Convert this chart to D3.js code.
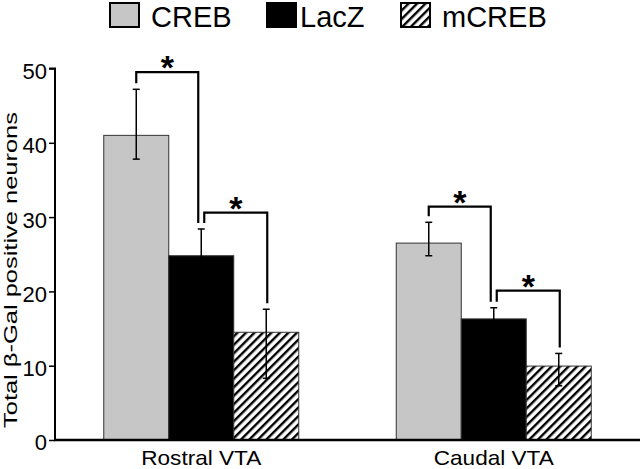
<!DOCTYPE html>
<html><head><meta charset="utf-8">
<script src="https://cdn.jsdelivr.net/npm/d3@7"></script>
<style>body{margin:0;background:#fff}svg{display:block;font-family:Arial,"Liberation Sans",Helvetica,sans-serif}</style>
</head><body><svg id="c" width="640" height="469"></svg>
<script>
const categories = ["Rostral VTA", "Caudal VTA"];
const series = ["CREB", "LacZ", "mCREB"];
const crebMean = [41.0, 26.5];
const crebHigh = [47.2, 29.3];
const crebLow = [37.8, 24.8];
const laczMean = [24.8, 16.3];
const laczHigh = [28.4, 17.8];
const laczLow = [21.2, 14.8];
const mcrebMean = [14.5, 9.95];
const mcrebHigh = [17.6, 11.65];
const mcrebLow = [8.3, 7.3];
const yTicks = [0, 10, 20, 30, 40, 50];
const yLabel = "Total β-Gal positive neurons";
// significance brackets: category, from series, to series, bracket height (value)
const brackets = [
  {cat: "Rostral VTA", a: "CREB", b: "LacZ", top: 49.5},
  {cat: "Rostral VTA", a: "LacZ", b: "mCREB", top: 30.6},
  {cat: "Caudal VTA", a: "CREB", b: "LacZ", top: 31.4},
  {cat: "Caudal VTA", a: "LacZ", b: "mCREB", top: 20.1}
];

const means = {CREB: crebMean, LacZ: laczMean, mCREB: mcrebMean};
const highs = {CREB: crebHigh, LacZ: laczHigh, mCREB: mcrebHigh};
const lows = {CREB: crebLow, LacZ: laczLow, mCREB: mcrebLow};
const rows = [];
categories.forEach((c, i) => series.forEach(s => rows.push({cat: c, s, v: means[s][i], hi: highs[s][i], lo: lows[s][i]})));

const svg = d3.select("#c");
const defs = svg.append("defs");
const pat = defs.append("pattern").attr("id", "hatch").attr("patternUnits", "userSpaceOnUse")
  .attr("width", 6).attr("height", 6).attr("patternTransform", "rotate(45)");
pat.append("rect").attr("width", 6).attr("height", 6).attr("fill", "#fff");
pat.append("rect").attr("x", 0).attr("y", 0).attr("width", 2.4).attr("height", 6).attr("fill", "#000");

const fills = {CREB: "#c6c6c6", LacZ: "#000", mCREB: "url(#hatch)"};

const x0 = d3.scaleBand().domain(categories).range([55, 640]).paddingInner(1/3).paddingOuter(1/6);
const x1 = d3.scaleBand().domain(series).range([0, x0.bandwidth()]).padding(0);
const y = d3.scaleLinear().domain([0, 50]).range([440, 68.5]);

// bars
svg.append("g").selectAll("rect").data(rows).join("rect")
  .attr("x", d => x0(d.cat) + x1(d.s))
  .attr("y", d => y(d.v))
  .attr("width", x1.bandwidth())
  .attr("height", d => y(0) - y(d.v))
  .attr("fill", d => fills[d.s])
  .attr("stroke", "#333").attr("stroke-width", 1);

// error bars
const cx = d => x0(d.cat) + x1(d.s) + x1.bandwidth() / 2;
const eg = svg.append("g").attr("stroke", "#000").attr("stroke-width", 1.5);
eg.selectAll("line.v").data(rows).join("line").attr("class", "v")
  .attr("x1", cx).attr("x2", cx).attr("y1", d => y(d.hi)).attr("y2", d => y(d.lo));
eg.selectAll("line.h").data(rows).join("line").attr("class", "h")
  .attr("x1", d => cx(d) - 3.5).attr("x2", d => cx(d) + 3.5).attr("y1", d => y(d.hi)).attr("y2", d => y(d.hi));
eg.selectAll("line.l").data(rows).join("line").attr("class", "l")
  .attr("x1", d => cx(d) - 3.5).attr("x2", d => cx(d) + 3.5).attr("y1", d => y(d.lo)).attr("y2", d => y(d.lo));

// axes
const yAxis = d3.axisLeft(y).tickValues(yTicks).tickSize(6).tickPadding(2).tickFormat(d3.format("d"));
const ga = svg.append("g").attr("transform", "translate(55,0)").call(yAxis);
ga.select(".domain").attr("stroke", "#000").attr("stroke-width", 2).attr("d", "M-6," + y(50) + "H0V" + y(0));
ga.selectAll(".tick line").attr("stroke", "#000").attr("stroke-width", 1.5);
ga.selectAll(".tick text").attr("font-size", 22).attr("fill", "#000").attr("dy", "0.45em")
  .attr("font-family", "Arial, 'Liberation Sans', sans-serif");

svg.append("line").attr("x1", 54).attr("x2", 640).attr("y1", y(0)).attr("y2", y(0))
  .attr("stroke", "#000").attr("stroke-width", 2.5);

// category labels
svg.append("g").selectAll("text").data(categories).join("text")
  .attr("x", d => x0(d) + x0.bandwidth() / 2).attr("y", 465)
  .attr("text-anchor", "middle").attr("font-size", 21)
  .attr("textLength", 120).attr("lengthAdjust", "spacingAndGlyphs").text(d => d);

// y label
svg.append("text").attr("transform", "translate(17,270) rotate(-90)")
  .attr("text-anchor", "middle").attr("font-size", 19)
  .attr("textLength", 316).attr("lengthAdjust", "spacingAndGlyphs").text(yLabel);

// brackets
const bg = svg.append("g");
brackets.forEach(b => {
  const ra = rows.find(r => r.cat === b.cat && r.s === b.a);
  const rb = rows.find(r => r.cat === b.cat && r.s === b.b);
  const xa = cx(ra) + (b.a === "LacZ" ? 3 : 0);
  const xb = cx(rb) + (b.b === "LacZ" ? -3 : 1);
  const yt = y(b.top);
  bg.append("path")
    .attr("d", `M${xa},${y(ra.hi) - 6}V${yt}H${xb}V${y(rb.hi) - 6}`)
    .attr("fill", "none").attr("stroke", "#000").attr("stroke-width", 2.2);
  bg.append("text").attr("x", (xa + xb) / 2).attr("y", yt - 12 + 19)
    .attr("text-anchor", "middle").attr("font-size", 34).attr("font-weight", "bold").text("*");
});

// legend
const legendX = [109, 266, 400];
const lg = svg.append("g").selectAll("g").data(series).join("g")
  .attr("transform", (d, i) => `translate(${legendX[i]},2)`);
lg.append("rect").attr("x", 1).attr("y", 1).attr("width", 29).attr("height", 24)
  .attr("fill", d => fills[d]).attr("stroke", "#000").attr("stroke-width", 2);
lg.append("text").attr("x", (d, i) => i === 1 ? 34 : 42).attr("y", 24.5)
  .attr("font-size", 29).text(d => d);
</script></body></html>
